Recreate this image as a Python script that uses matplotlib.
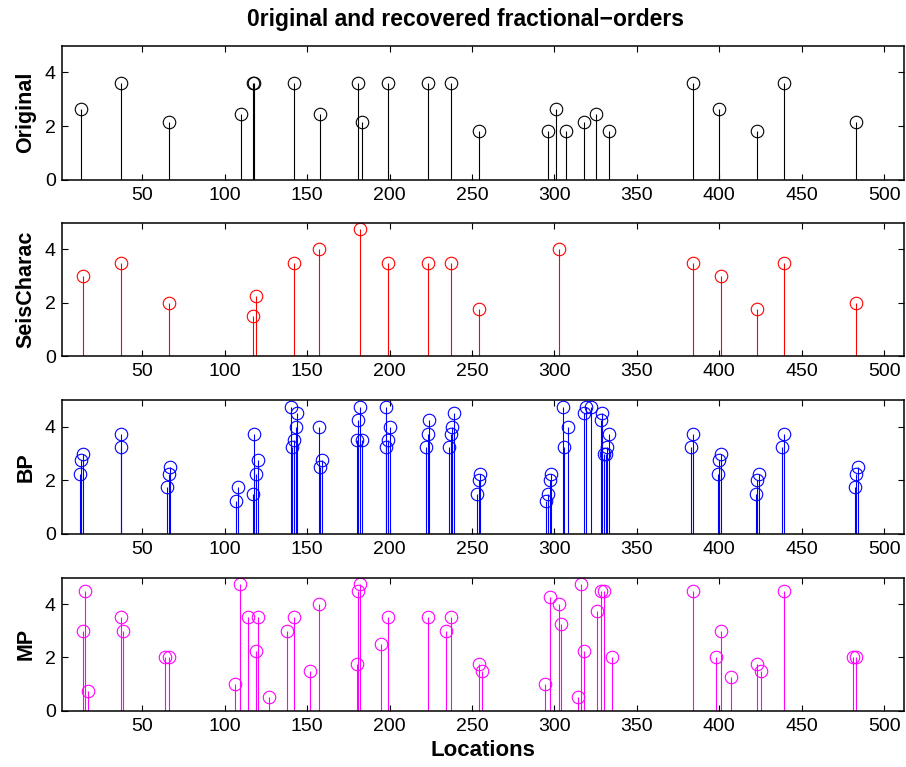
import matplotlib
matplotlib.use("Agg")
import matplotlib.pyplot as plt

plt.rcParams["font.family"] = ["Liberation Sans", "DejaVu Sans"]

# Original fractional orders
orig_loc = [13, 37, 66, 110, 117, 118, 142, 158, 181, 183, 199, 223, 237, 254,
            296, 301, 307, 318, 325, 333, 384, 400, 423, 439, 483]
orig_val = [2.65, 3.6, 2.14, 2.45, 3.6, 3.6, 3.6, 2.45, 3.6, 2.14, 3.6, 3.6, 3.6, 1.83,
            1.83, 2.65, 1.83, 2.14, 2.45, 1.83, 3.6, 2.65, 1.83, 3.6, 2.14]

# SeisCharac recovery
seis_loc = [14, 37, 66, 117, 119, 142, 157, 182, 199, 223, 237, 254,
            303, 384, 401, 423, 439, 483]
seis_val = [3.0, 3.5, 2.0, 1.5, 2.25, 3.5, 4.0, 4.75, 3.5, 3.5, 3.5, 1.75,
            4.0, 3.5, 3.0, 1.75, 3.5, 2.0]

# BP recovery
bp_loc = [12, 13, 14, 37, 37, 65, 66, 67, 107, 108, 117, 118, 119, 120,
          140, 141, 142, 143, 144, 157, 158, 159, 180, 181, 182, 183,
          198, 198, 199, 200, 222, 223, 224, 236, 237, 238, 239, 253, 254, 255,
          295, 296, 297, 298, 305, 306, 308, 318, 319, 322, 328, 329, 330, 331, 332, 333,
          383, 384, 399, 400, 401, 422, 423, 424, 438, 439, 482, 483, 484]
bp_val = [2.25, 2.75, 3.0, 3.25, 3.75, 1.75, 2.25, 2.5, 1.25, 1.75, 1.5, 3.75, 2.25, 2.75,
          4.75, 3.25, 3.5, 4.0, 4.5, 4.0, 2.5, 2.75, 3.5, 4.25, 4.75, 3.5,
          4.75, 3.25, 3.5, 4.0, 3.25, 3.75, 4.25, 3.25, 3.75, 4.0, 4.5, 1.5, 2.0, 2.25,
          1.25, 1.5, 2.0, 2.25, 4.75, 3.25, 4.0, 4.5, 4.75, 4.75, 4.25, 4.5, 3.0, 3.0, 3.25, 3.75,
          3.25, 3.75, 2.25, 2.75, 3.0, 1.5, 2.0, 2.25, 3.25, 3.75, 1.75, 2.25, 2.5]

# MP recovery
mp_loc = [14, 15, 17, 37, 38, 64, 66, 106, 109, 114, 119, 120, 127, 138, 142, 152, 157,
          180, 181, 182, 195, 199, 223, 234, 237, 254, 256,
          294, 297, 303, 304, 314, 316, 318, 326, 328, 330, 335,
          384, 398, 401, 407, 423, 425, 439, 481, 483]
mp_val = [3.0, 4.5, 0.75, 3.5, 3.0, 2.0, 2.0, 1.0, 4.75, 3.5, 2.25, 3.5, 0.5, 3.0, 3.5, 1.5, 4.0,
          1.75, 4.5, 4.75, 2.5, 3.5, 3.5, 3.0, 3.5, 1.75, 1.5,
          1.0, 4.25, 4.0, 3.25, 0.5, 4.75, 2.25, 3.75, 4.5, 4.5, 2.0,
          4.5, 2.0, 3.0, 1.25, 1.75, 1.5, 4.5, 2.0, 2.0]

panels = [
    ("Original", orig_loc, orig_val, "black"),
    ("SeisCharac", seis_loc, seis_val, "red"),
    ("BP", bp_loc, bp_val, "blue"),
    ("MP", mp_loc, mp_val, "magenta"),
]

# axes boxes in pixels: (top, bottom)
boxes = [(45.5, 180), (222.5, 356), (400, 534), (577.5, 710.7)]
W, H = 906, 767

fig = plt.figure(figsize=(W / 100, H / 100), dpi=100)
left, right = 61.5, 904

for (name, loc, val, color), (top, bottom) in zip(panels, boxes):
    ax = fig.add_axes([left / W, 1 - bottom / H, (right - left) / W, (bottom - top) / H])
    markerline, stemlines, baseline = ax.stem(loc, val, linefmt=color, markerfmt="o", basefmt=" ")
    markerline.set_markerfacecolor("none")
    markerline.set_markeredgecolor(color)
    markerline.set_markersize(9)
    markerline.set_markeredgewidth(0.8)
    stemlines.set_linewidth(0.8)
    stemlines.set_color(color)
    ax.set_xlim(1, 512)
    ax.set_ylim(0, 5)
    ax.set_xticks(range(50, 501, 50))
    ax.set_yticks([0, 2, 4])
    ax.tick_params(direction="in", top=True, right=True, length=4, width=0.8, labelsize=14)
    ax.tick_params(axis="x", pad=5)
    ax.tick_params(axis="y", pad=4)
    for sp in ax.spines.values():
        sp.set_linewidth(1.1)
    ax.set_ylabel(name, fontsize=15.5, fontweight="bold", labelpad=6)
    if name == "Original":
        ax.set_title("0riginal and recovered fractional\u2212orders", fontsize=16.5,
                     fontweight="bold", pad=14, x=0.479)
    if name == "MP":
        ax.set_xlabel("Locations", fontsize=16, fontweight="bold", labelpad=4)

fig.savefig("out.png", dpi=100)
